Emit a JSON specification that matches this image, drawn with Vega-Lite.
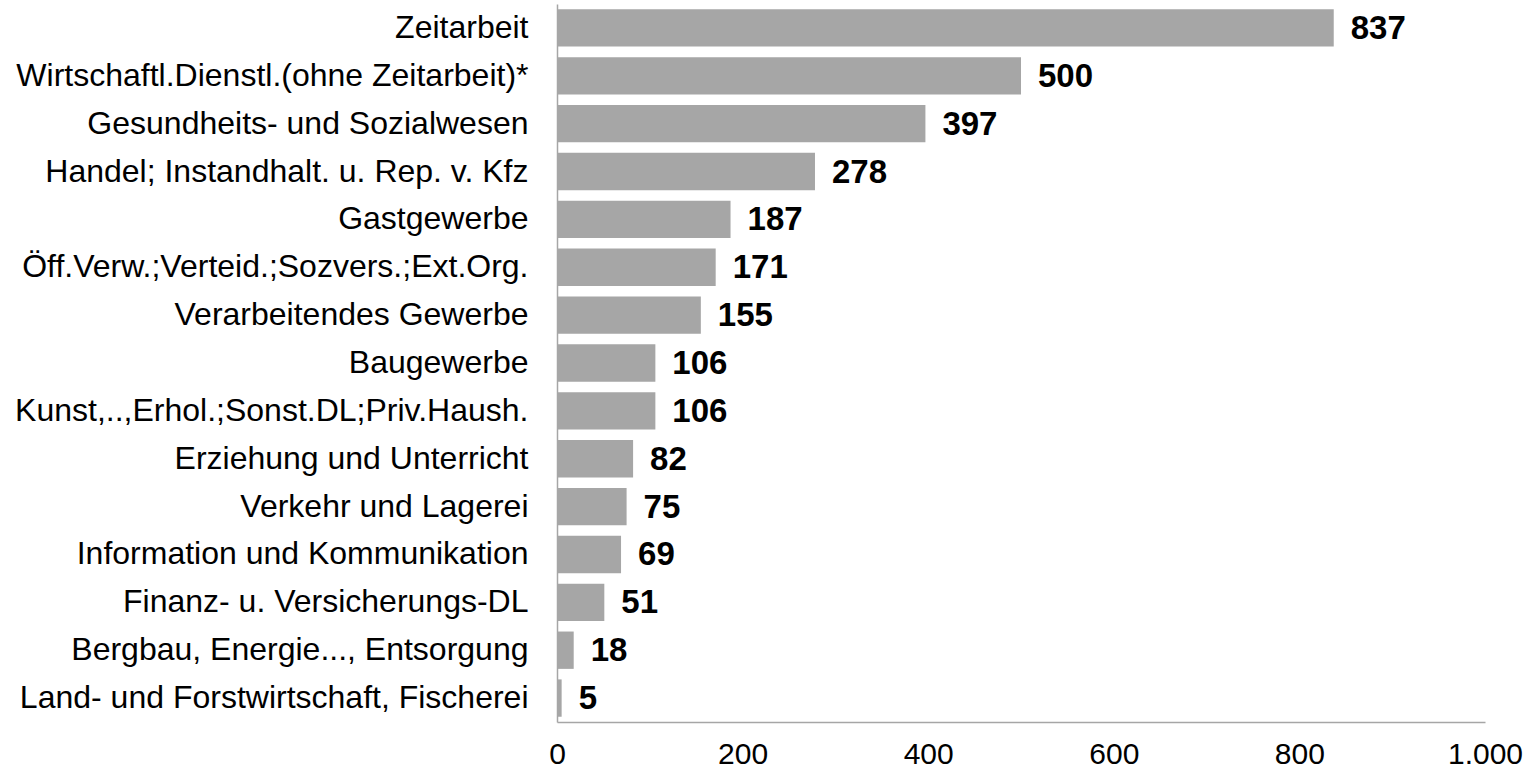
{
  "$schema": "https://vega.github.io/schema/vega-lite/v6.json",
  "width": 928,
  "height": 718,
  "autosize": "none",
  "padding": {"left": 557, "top": 4, "right": 54, "bottom": 48},
  "background": "white",
  "config": {"view": {"stroke": null}, "font": "Liberation Sans"},
  "data": {"values": [
    {"branche": "Zeitarbeit", "wert": 837},
    {"branche": "Wirtschaftl.Dienstl.(ohne Zeitarbeit)*", "wert": 500},
    {"branche": "Gesundheits- und Sozialwesen", "wert": 397},
    {"branche": "Handel; Instandhalt. u. Rep. v. Kfz", "wert": 278},
    {"branche": "Gastgewerbe", "wert": 187},
    {"branche": "Öff.Verw.;Verteid.;Sozvers.;Ext.Org.", "wert": 171},
    {"branche": "Verarbeitendes Gewerbe", "wert": 155},
    {"branche": "Baugewerbe", "wert": 106},
    {"branche": "Kunst,..,Erhol.;Sonst.DL;Priv.Haush.", "wert": 106},
    {"branche": "Erziehung und Unterricht", "wert": 82},
    {"branche": "Verkehr und Lagerei", "wert": 75},
    {"branche": "Information und Kommunikation", "wert": 69},
    {"branche": "Finanz- u. Versicherungs-DL", "wert": 51},
    {"branche": "Bergbau, Energie..., Entsorgung", "wert": 18},
    {"branche": "Land- und Forstwirtschaft, Fischerei", "wert": 5}
  ]},
  "encoding": {
    "y": {
      "field": "branche", "type": "nominal", "sort": null,
      "scale": {"paddingInner": 0.22, "paddingOuter": 0.11},
      "axis": {"title": null, "ticks": false, "domain": true, "domainColor": "#a6a6a6", "domainWidth": 1.5,
               "labelFont": "Liberation Sans", "labelFontSize": 32, "labelColor": "#000000", "labelPadding": 29, "labelLimit": 600}
    },
    "x": {
      "field": "wert", "type": "quantitative",
      "scale": {"domain": [0, 1000], "nice": false},
      "axis": {"title": null, "grid": false, "ticks": false, "values": [0, 200, 400, 600, 800, 1000],
               "domainColor": "#a6a6a6", "domainWidth": 1.5,
               "labelExpr": "replace(format(datum.value, ','), ',', '.')",
               "labelFont": "Liberation Sans", "labelFontSize": 30, "labelColor": "#000000", "labelPadding": 17, "labelFlush": false}
    }
  },
  "layer": [
    {"mark": {"type": "bar", "color": "#a6a6a6"}},
    {"mark": {"type": "text", "align": "left", "baseline": "middle", "dx": 17, "dy": 1, "fontWeight": "bold", "fontSize": 33, "font": "Liberation Sans", "color": "#000000"},
     "encoding": {"text": {"field": "wert", "type": "quantitative"}}}
  ]
}
